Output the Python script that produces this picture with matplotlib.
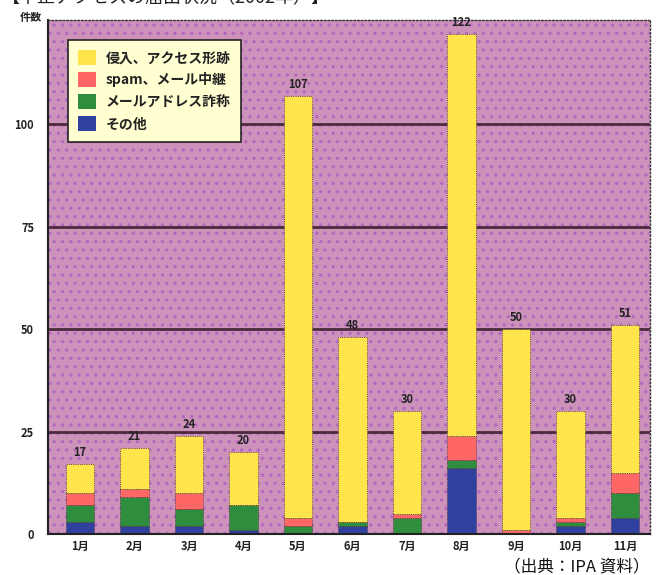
import matplotlib
matplotlib.use("Agg")
import matplotlib.pyplot as plt
from matplotlib.patches import Rectangle, Patch
import numpy as np

plt.rcParams['font.family'] = ['Noto Sans CJK JP', 'DejaVu Sans']
plt.rcParams['hatch.linewidth'] = 1.2

months = ["1月", "2月", "3月", "4月", "5月", "6月", "7月", "8月", "9月", "10月", "11月"]
other = [3, 2, 2, 1, 0, 2, 0, 16, 0, 2, 4]
spoof = [4, 7, 4, 6, 2, 1, 4, 2, 0, 1, 6]
spam = [3, 2, 4, 0, 2, 0, 1, 6, 1, 1, 5]
intrusion = [7, 10, 14, 13, 103, 45, 25, 98, 49, 26, 36]
totals = [17, 21, 24, 20, 107, 48, 30, 122, 50, 30, 51]
series_names = ["侵入、アクセス形跡", "spam、メール中継", "メールアドレス詐称", "その他"]
yticks = [0, 25, 50, 75, 100]

c_yellow = "#FFE44C"
c_red = "#FF6666"
c_green = "#2E8E3E"
c_blue = "#30409E"
bg = "#CC92BA"

fig = plt.figure(figsize=(6.6, 5.75), dpi=100)
fig.patch.set_facecolor("white")
ax = fig.add_axes([48/660, 41/575, 602/660, 514/575])
ax.set_facecolor(bg)
ax.add_patch(Rectangle((0, 0), 1, 1, transform=ax.transAxes, facecolor="none",
                       edgecolor="#B468C0", hatch="..", linewidth=0, zorder=0.5))

for yv in yticks[1:]:
    ax.axhline(yv, color="#4A2A3C", linewidth=2.0, zorder=1)

x = np.arange(len(months))
w = 0.52
edge = dict(edgecolor="#3A2A2A", linewidth=0.6, linestyle=":", zorder=2)
b = np.zeros(len(months))
for vals, col in [(other, c_blue), (spoof, c_green), (spam, c_red), (intrusion, c_yellow)]:
    ax.bar(x, vals, w, bottom=b, color=col, **edge)
    b = b + np.array(vals)

for xi, t in zip(x, totals):
    ax.text(xi, t + 1.2, str(t), ha="center", va="bottom", fontsize=8,
            fontweight="bold", color="#222222", zorder=3)

ax.set_xlim(-0.59, 10.46)
ax.set_ylim(0, 125.5)
ax.set_yticks(yticks)
ax.set_yticklabels([str(v) for v in yticks], fontsize=8, fontweight="bold", color="#222222")
ax.set_xticks(x)
ax.set_xticklabels(months, fontsize=8, fontweight="bold", color="#222222")
ax.tick_params(axis="y", length=0, pad=10)
ax.tick_params(axis="x", length=0, pad=4)
for s in ["left", "bottom"]:
    ax.spines[s].set_color("#222222")
    ax.spines[s].set_linewidth(1.5)
for s in ["top", "right"]:
    ax.spines[s].set_color("#333333")
    ax.spines[s].set_linewidth(1.0)
    ax.spines[s].set_linestyle(":")

handles = [Patch(facecolor=c_yellow, edgecolor="none"),
           Patch(facecolor=c_red, edgecolor="none"),
           Patch(facecolor=c_green, edgecolor="none"),
           Patch(facecolor=c_blue, edgecolor="none")]
leg = ax.legend(handles, series_names, loc="upper left", bbox_to_anchor=(0.033, 0.961),
                frameon=True, fancybox=False, fontsize=10, handlelength=1.25, handleheight=1.25,
                labelspacing=0.5, borderpad=0.75, handletextpad=0.7, borderaxespad=0)
leg.get_frame().set_facecolor("#FFFFD2")
leg.get_frame().set_edgecolor("#222222")
leg.get_frame().set_linewidth(1.2)
leg.get_frame().set_alpha(1)
for t in leg.get_texts():
    t.set_fontweight("bold")
    t.set_color("#222222")

fig.text(20/660, 1 - 18/575, "件数", fontsize=8, fontweight="bold", color="#222222",
         ha="left", va="center")
fig.text(2/660, 1 - 7/575, "【不正アクセスの届出状況（2002年）】", fontsize=13, color="#222222",
         ha="left", va="bottom")
fig.text(650/660, 1 - 567/575, "（出典：IPA 資料）", fontsize=12, color="#111111",
         ha="right", va="center")

fig.savefig("out.png", dpi=100)
